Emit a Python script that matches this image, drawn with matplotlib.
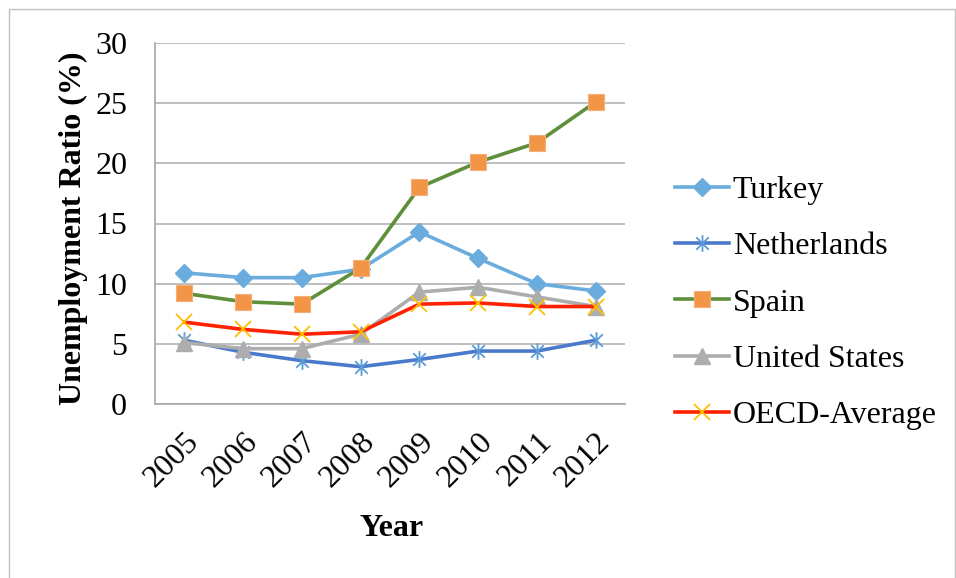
import matplotlib
matplotlib.use("Agg")
import matplotlib.pyplot as plt
from matplotlib.path import Path
from matplotlib.patches import Rectangle
import matplotlib.transforms as mtransforms

years = ["2005", "2006", "2007", "2008", "2009", "2010", "2011", "2012"]
turkey = [10.9, 10.5, 10.5, 11.2, 14.3, 12.1, 10.0, 9.4]
netherlands = [5.3, 4.3, 3.6, 3.1, 3.7, 4.4, 4.4, 5.3]
spain = [9.2, 8.5, 8.3, 11.3, 18.0, 20.1, 21.7, 25.1]
united_states = [5.1, 4.6, 4.6, 5.8, 9.3, 9.7, 8.9, 8.1]
oecd = [6.8, 6.2, 5.8, 6.0, 8.3, 8.4, 8.1, 8.1]

plt.rcParams['font.family'] = ['Liberation Serif', 'DejaVu Serif']

fig = plt.figure(figsize=(9.56, 5.78), dpi=100)
fig.patches.append(Rectangle((9/956, -0.01), (955-9)/956, (578-9)/578 + 0.01,
                             transform=fig.transFigure, fill=False,
                             edgecolor='#BFBFBF', linewidth=1.0))
ax = fig.add_axes([155/956, 1-404/578, (625-155)/956, (404-43)/578])

x = list(range(len(years)))
star = Path([(0, -1), (0, 1), (-0.75, -0.75), (0.75, 0.75), (-0.75, 0.75), (0.75, -0.75)],
            [Path.MOVETO, Path.LINETO, Path.MOVETO, Path.LINETO, Path.MOVETO, Path.LINETO])

lw = 2.6
ax.plot(x, turkey, color='#6AACDD', lw=lw, marker='D', ms=9, mfc='#6AACDD', mec='#6AACDD', label='Turkey', zorder=3)
ax.plot(x, netherlands, color='#4A7ACB', lw=lw, marker=star, ms=12, mfc='none', mec='#5B9BD5', mew=1.3, label='Netherlands', zorder=3)
ax.plot(x, spain, color='#5E8F3A', lw=lw, marker='s', ms=12, mfc='#F39546', mec='#F5B07A', mew=0.8, label='Spain', zorder=3)
ax.plot(x, united_states, color='#ADADAD', lw=lw, marker='^', ms=12, mfc='#ADADAD', mec='#ADADAD', label='United States', zorder=3)
ax.plot(x, oecd, color='#FF2200', lw=lw, marker='x', ms=12, mfc='none', mec='#FFC000', mew=1.3, label='OECD-Average', zorder=4)

fs = 23
ax.set_xlim(-0.5, 7.5)
ax.set_ylim(0, 30)
ax.set_yticks([0, 5, 10, 15, 20, 25, 30])
ax.set_xticks(x)
ax.set_xticklabels(years, rotation=45, ha='right', rotation_mode='anchor', fontsize=fs)
offset = mtransforms.ScaledTranslation(-4/100, 0, fig.dpi_scale_trans)
for lab in ax.get_xticklabels():
    lab.set_transform(lab.get_transform() + offset)
ax.tick_params(axis='y', labelsize=fs, length=0, pad=20)
ax.tick_params(axis='x', length=0, pad=17)
ax.grid(axis='y', color='#B3B3B3', linewidth=1.2)
ax.set_axisbelow(True)
for s in ['top', 'right']:
    ax.spines[s].set_visible(False)
for s in ['left', 'bottom']:
    ax.spines[s].set_color('#A6A6A6')
    ax.spines[s].set_linewidth(1.2)

fig.text(73/956, 1-228/578, 'Unemployment Ratio (%)', rotation=90, ha='center', va='center',
         fontsize=fs, fontweight='bold')
fig.text(392/956, 1-528/578, 'Year', ha='center', va='center', fontsize=fs, fontweight='bold')

leg = fig.legend(loc='upper left', bbox_to_anchor=(662/956, 1-163/578), frameon=False,
                 fontsize=fs, handlelength=1.7, handletextpad=0.12, labelspacing=0.84,
                 borderaxespad=0)

fig.savefig('out.png', dpi=100)
